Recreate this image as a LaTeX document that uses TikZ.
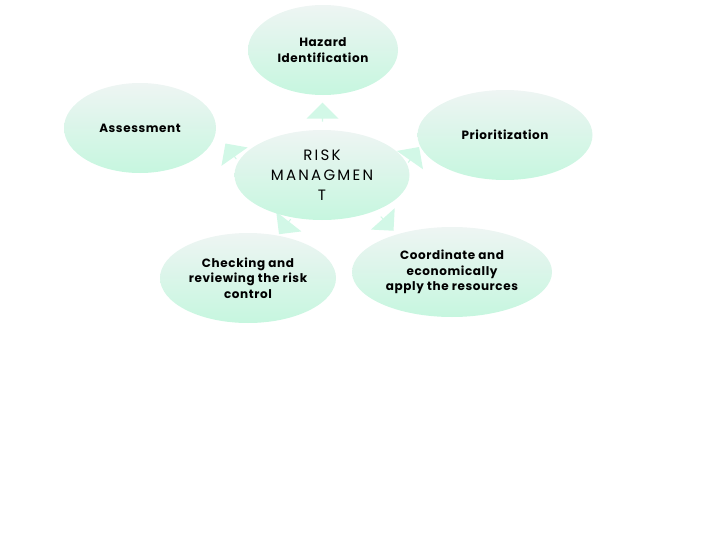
\documentclass[tikz,border=0pt]{standalone}
\usepackage{fontspec}
\setmainfont{Poppins}
\usetikzlibrary{shapes.geometric, shapes.arrows, calc}

\definecolor{mintTop}{HTML}{EEF5F3}
\definecolor{mintBot}{HTML}{C6F6DF}
\definecolor{arrowMint}{HTML}{D2F8E7}

\tikzset{
	bubble/.style={ellipse, inner sep=0pt, top color=mintTop, bottom color=mintBot,
		minimum height=90pt, align=center, text=black,
		font=\bfseries\fontsize{12}{15.5}\selectfont\addfontfeature{LetterSpace=5}},
	flowarrow/.style={single arrow, fill=arrowMint, inner sep=0pt,
		minimum height=19pt, minimum width=32pt, single arrow head extend=6pt}
}

\begin{document}
\begin{tikzpicture}[x=1pt, y=-1pt]
		
		% Canvas
		\useasboundingbox (0,0) rectangle (718,538);
		
		% Centre and outer bubbles (placed only, drawn below)
		\path (322,175) coordinate (c-risk);
		\path (323,50) coordinate (c-hazard);
		\path (140,128) coordinate (c-assess);
		\path (505,135) coordinate (c-prior);
		\path (248,278) coordinate (c-check);
		\path (452,272) coordinate (c-coord);
		
		% Arrows between the centre and the outer bubbles
		\foreach \target/\angle in {hazard/90, assess/125, prior/55, coord/-48, check/-128}{
			\node[flowarrow, rotate=\angle] (arr-\target) at ($(c-risk)!0.5!(c-\target)$) {};
		}
		
		% Bubbles
		\node[bubble, minimum width=150pt] (hazard) at (c-hazard) {Hazard\\Identification};
		\node[bubble, minimum width=152pt] (assess) at (c-assess) {Assessment};
		\node[bubble, minimum width=175pt] (prior) at (c-prior) {Prioritization};
		\node[bubble, minimum width=175pt, font=\fontsize{15}{20}\selectfont\addfontfeature{LetterSpace=15}] (risk) at (c-risk) {RISK\\MANAGMEN\\T};
		\node[bubble, minimum width=176pt] (check) at (c-check) {Checking and\\reviewing the risk\\control};
		\node[bubble, minimum width=200pt] (coord) at (c-coord) {Coordinate and\\economically\\apply the resources};
		
	\end{tikzpicture}
\end{document}
